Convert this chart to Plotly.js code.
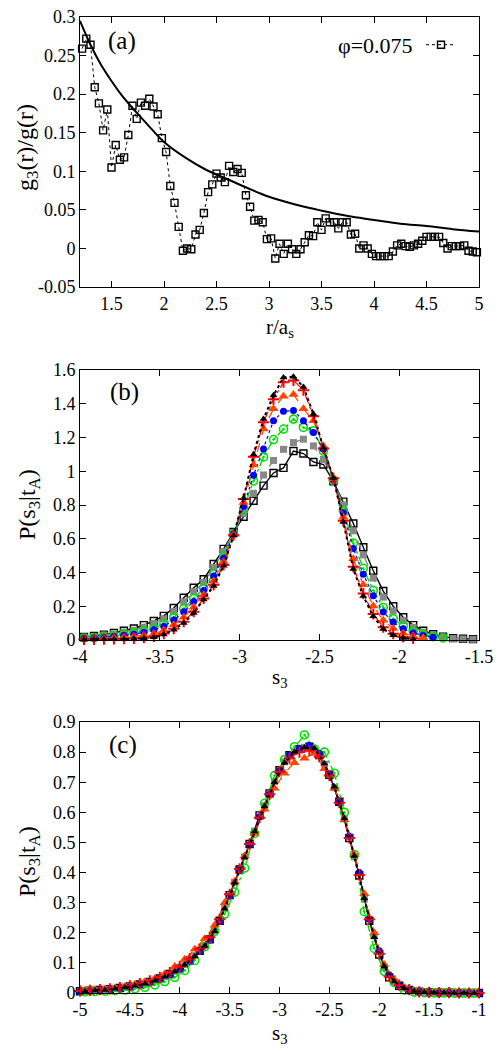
<!DOCTYPE html>
<html><head><meta charset="utf-8">
<script src="https://cdn.plot.ly/plotly-3.0.1.min.js"></script>
<style>html,body{margin:0;padding:0;background:#fff}#chart{width:502px;height:1054px}</style>
</head><body><div id="chart"></div>
<script>
// ---------- panel (a) ----------
const rData = [1.22,1.26,1.30,1.34,1.38,1.42,1.46,1.50,1.54,1.58,1.62,1.66,1.70,1.74,1.78,1.82,1.86,1.90,1.94,1.98,2.02,2.06,2.10,2.14,2.18,2.22,2.26,2.30,2.34,2.38,2.42,2.46,2.50,2.54,2.58,2.62,2.66,2.70,2.74,2.78,2.82,2.86,2.90,2.94,2.98,3.02,3.06,3.10,3.14,3.18,3.22,3.26,3.30,3.34,3.38,3.42,3.46,3.50,3.54,3.58,3.62,3.66,3.70,3.74,3.78,3.82,3.86,3.90,3.94,3.98,4.02,4.06,4.10,4.14,4.18,4.22,4.26,4.30,4.34,4.38,4.42,4.46,4.50,4.54,4.58,4.62,4.66,4.70,4.74,4.78,4.82,4.86,4.90,4.94,4.98];
const g3Data = [0.259,0.272,0.264,0.209,0.188,0.153,0.180,0.105,0.134,0.115,0.118,0.147,0.185,0.168,0.189,0.185,0.194,0.184,0.174,0.143,0.125,0.081,0.059,0.028,-0.003,0.000,-0.001,0.018,0.024,0.046,0.073,0.083,0.097,0.092,0.086,0.107,0.099,0.103,0.098,0.069,0.054,0.036,0.037,0.034,0.012,0.013,-0.013,0.006,-0.007,0.006,-0.001,-0.007,-0.001,0.008,0.017,0.016,0.034,0.024,0.039,0.034,0.034,0.026,0.034,0.034,0.018,0.019,0.000,0.004,0.000,-0.007,-0.010,-0.010,-0.010,-0.010,-0.004,0.004,0.006,0.003,0.002,0.004,0.006,0.010,0.015,0.015,0.015,0.015,0.007,0.000,0.003,0.003,0.003,0.004,-0.003,-0.004,-0.005];
const rCurve = [1.2,1.3,1.4,1.5,1.6,1.7,1.8,1.9,2.0,2.2,2.4,2.6,2.8,3.0,3.25,3.5,3.75,4.0,4.25,4.5,4.75,5.0];
const g3Curve = [0.295,0.264,0.238,0.217,0.198,0.182,0.167,0.152,0.138,0.118,0.102,0.090,0.078,0.067,0.057,0.049,0.042,0.037,0.032,0.029,0.025,0.022];
const legendLabelA = "\u03c6=0.075";

// ---------- panel (b) ----------
const sB = [-3.975,-3.9125,-3.85,-3.7875,-3.725,-3.6625,-3.6,-3.5375,-3.475,-3.4125,-3.35,-3.2875,-3.225,-3.1625,-3.1,-3.0375,-2.975,-2.9125,-2.85,-2.7875,-2.725,-2.6625,-2.6,-2.5375,-2.475,-2.4125,-2.35,-2.2875,-2.225,-2.1625,-2.1,-2.0375,-1.975,-1.9125,-1.85,-1.7875,-1.725,-1.6625,-1.6,-1.5375];
const pB1 = [0.018,0.024,0.032,0.042,0.055,0.068,0.088,0.113,0.143,0.19,0.25,0.31,0.36,0.45,0.54,0.64,0.73,0.825,0.915,0.99,1.02,1.12,1.105,1.055,1.04,0.94,0.82,0.69,0.55,0.41,0.29,0.2,0.135,0.088,0.055,0.034,0.02,0.011,0.007,0.005];
const pB2 = [0.016,0.021,0.028,0.036,0.047,0.058,0.076,0.098,0.125,0.169,0.226,0.286,0.341,0.429,0.524,0.637,0.748,0.869,0.978,1.064,1.13,1.17,1.19,1.15,1.07,0.943,0.801,0.647,0.504,0.367,0.254,0.172,0.115,0.075,0.047,0.029,0.017,0.009,0.006,0.004];
const pB3 = [0.012,0.015,0.020,0.026,0.034,0.042,0.055,0.071,0.095,0.134,0.186,0.246,0.308,0.394,0.497,0.631,0.777,0.943,1.085,1.188,1.25,1.309,1.26,1.24,1.12,0.949,0.768,0.574,0.425,0.294,0.193,0.126,0.082,0.052,0.032,0.020,0.012,null,null,null];
const pB4 = [0.010,0.012,0.017,0.022,0.028,0.034,0.045,0.060,0.082,0.119,0.168,0.228,0.294,0.379,0.485,0.629,0.791,0.976,1.132,1.30,1.355,1.36,1.30,1.23,1.13,0.951,0.754,0.542,0.390,0.262,0.166,0.105,0.067,0.042,0.026,0.016,null,null,null,null];
const pB5 = [0.006,0.008,0.010,0.014,0.017,0.021,0.028,0.038,0.058,0.090,0.135,0.195,0.268,0.350,0.463,0.625,0.815,1.037,1.25,1.37,1.445,1.455,1.37,1.30,1.15,0.955,0.728,0.482,0.327,0.202,0.117,0.068,0.040,0.024,0.014,null,null,null,null,null];
const pB6 = [0.004,0.004,0.005,0.007,0.008,0.010,0.014,0.021,0.038,0.067,0.108,0.168,0.246,0.327,0.445,0.621,0.835,1.086,1.29,1.427,1.528,1.538,1.48,1.326,1.135,0.959,0.706,0.434,0.275,0.154,0.076,0.037,0.018,0.009,null,null,null,null,null,null];
const pB7 = [0.003,0.003,0.004,0.005,0.005,0.007,0.010,0.016,0.032,0.060,0.100,0.160,0.240,0.320,0.440,0.620,0.840,1.100,1.310,1.450,1.555,1.560,1.500,1.340,1.140,0.960,0.700,0.420,0.260,0.140,0.065,0.028,0.012,0.005,null,null,null,null,null,null];

// ---------- panel (c) ----------
const sCA = [-5.0,-4.9,-4.8,-4.7,-4.6,-4.5,-4.4,-4.3,-4.2,-4.1,-4.0,-3.9,-3.8,-3.7,-3.6,-3.5,-3.4,-3.3,-3.2,-3.1,-3.0,-2.9,-2.8,-2.7,-2.6,-2.5,-2.4,-2.3,-2.2,-2.1,-2.0,-1.9,-1.8,-1.7,-1.6,-1.5,-1.4,-1.3,-1.2,-1.1,-1.0];
const sCB = [-4.95,-4.85,-4.75,-4.65,-4.55,-4.45,-4.35,-4.25,-4.15,-4.05,-3.95,-3.85,-3.75,-3.65,-3.55,-3.45,-3.35,-3.25,-3.15,-3.05,-2.95,-2.85,-2.75,-2.65,-2.55,-2.45,-2.35,-2.25,-2.15,-2.05,-1.95,-1.85,-1.75,-1.65,-1.55,-1.45,-1.35,-1.25,-1.15,-1.05];
const pC1 = [0.006,0.008,0.010,0.013,0.017,0.022,0.028,0.037,0.048,0.063,0.082,0.108,0.140,0.178,0.240,0.325,0.41,0.495,0.59,0.663,0.74,0.79,0.81,0.818,0.79,0.725,0.635,0.515,0.39,0.24,0.128,0.052,0.024,0.010,0.004,0.002,0.001,0.001,0,0,0];
const pC2 = [0.007,0.009,0.011,0.015,0.019,0.025,0.032,0.042,0.055,0.072,0.095,0.124,0.158,0.207,0.282,0.368,0.452,0.538,0.622,0.703,0.768,0.802,0.816,0.808,0.760,0.682,0.578,0.452,0.312,0.19,0.085,0.036,0.016,0.007,0.003,0.001,0.001,0,0,0];
const pC3 = [0.004,0.005,0.006,0.008,0.010,0.014,0.019,0.027,0.038,0.052,0.075,0.108,0.154,0.205,0.262,0.335,0.415,0.53,0.63,0.722,0.775,0.818,0.857,0.81,0.80,0.73,0.60,0.46,0.27,0.148,0.072,0.035,0.010,0.003,0.001,0,0,0,0,0];
const pC4 = [0.005,0.007,0.009,0.012,0.016,0.021,0.027,0.036,0.047,0.061,0.080,0.106,0.138,0.176,0.238,0.322,0.41,0.492,0.585,0.66,0.738,0.79,0.812,0.822,0.795,0.728,0.635,0.52,0.40,0.245,0.14,0.06,0.026,0.011,0.004,0.002,0.001,0.001,0.001,0,0];
const pC5 = [0.009,0.011,0.013,0.017,0.022,0.029,0.037,0.048,0.064,0.088,0.112,0.145,0.18,0.225,0.30,0.37,0.455,0.53,0.61,0.68,0.73,0.765,0.78,0.795,0.745,0.68,0.575,0.46,0.33,0.20,0.095,0.045,0.018,0.007,0.003,0.001,0.001,0.001,0.001,0.001];
const pC6 = [0.007,0.009,0.011,0.014,0.018,0.024,0.031,0.040,0.052,0.068,0.088,0.114,0.146,0.185,0.245,0.328,0.412,0.495,0.582,0.66,0.735,0.78,0.80,0.805,0.785,0.722,0.632,0.515,0.392,0.245,0.13,0.055,0.026,0.011,0.004,0.002,0.001,0.001,0,0,0];
const pC7 = [0.006,0.008,0.010,0.014,0.018,0.024,0.031,0.041,0.054,0.071,0.094,0.122,0.156,0.205,0.28,0.366,0.45,0.536,0.62,0.70,0.765,0.80,0.815,0.812,0.762,0.685,0.58,0.455,0.315,0.185,0.088,0.038,0.016,0.007,0.003,0.001,0.001,0,0,0];

// ---------- ticks ----------
const xTickA = [1.5,2,2.5,3,3.5,4,4.5,5];
const xLabA = ["1.5","2","2.5","3","3.5","4","4.5","5"];
const yTickA = [-0.05,0,0.05,0.1,0.15,0.2,0.25,0.3];
const yLabA = ["-0.05","0","0.05","0.1","0.15","0.2","0.25","0.3"];
const xTickB = [-4,-3.5,-3,-2.5,-2,-1.5];
const xLabB = ["-4","-3.5","-3","-2.5","-2","-1.5"];
const yTickB = [0,0.2,0.4,0.6,0.8,1,1.2,1.4,1.6];
const yLabB = ["0","0.2","0.4","0.6","0.8","1","1.2","1.4","1.6"];
const xTickC = [-5,-4.5,-4,-3.5,-3,-2.5,-2,-1.5,-1];
const xLabC = ["-5","-4.5","-4","-3.5","-3","-2.5","-2","-1.5","-1"];
const yTickC = [0,0.1,0.2,0.3,0.4,0.5,0.6,0.7,0.8,0.9];
const yLabC = ["0","0.1","0.2","0.3","0.4","0.5","0.6","0.7","0.8","0.9"];

// ---------- drawing ----------
const W = 502, H = 1054;
const px = v => v / W, py = v => 1 - v / H;
const FONT = "Liberation Serif, serif";

const seriesStyles = [
  {color:'#000000', symbol:'square-open', size:7, mlw:1.4, dash:'solid', lw:1.4},
  {color:'#888888', symbol:'square', size:7, mlw:0, dash:'dash', lw:1.4},
  {color:'#00e000', symbol:'circle-open-dot', size:8, mlw:1.6, dash:'dashdot', lw:1.4},
  {color:'#0000ff', symbol:'circle', size:7, mlw:0, dash:'dot', lw:1.2},
  {color:'#ff4500', symbol:'triangle-up', size:9, mlw:0, dash:'dash', lw:1.2},
  {color:'#ff0000', symbol:'cross-thin-open', size:8, mlw:2, dash:'dashdot', lw:1.2},
  {color:'#000000', symbol:'triangle-up', size:7, mlw:0, dash:'dot', lw:2}
];

function seriesTrace(x, y, st, xa, ya) {
  return {x, y, xaxis:xa, yaxis:ya, type:'scatter', mode:'lines+markers', showlegend:false, cliponaxis:false,
    line:{color:st.color, width:st.lw, dash:st.dash},
    marker:{symbol:st.symbol, size:st.size, color:st.color, line:{color:st.color, width:st.mlw}}};
}

const traces = [];
traces.push({x:rCurve, y:g3Curve, xaxis:'x', yaxis:'y', type:'scatter', mode:'lines', line:{color:'#000', width:2, shape:'spline'}, showlegend:false});
traces.push({x:rData, y:g3Data, xaxis:'x', yaxis:'y', type:'scatter', mode:'lines+markers', name:' ', showlegend:true, cliponaxis:false,
  line:{color:'#000', width:1, dash:'3px,3px'},
  marker:{symbol:'square-open', size:7, color:'#000', line:{color:'#000', width:1.4}}});

const bSeries = [pB1,pB2,pB3,pB4,pB5,pB6,pB7];
bSeries.forEach((p,i)=>traces.push(seriesTrace(sB, p, seriesStyles[i], 'x2', 'y2')));
const cGrids = [sCA,sCB,sCB,sCA,sCB,sCA,sCB];
const cSeries = [pC1,pC2,pC3,pC4,pC5,pC6,pC7];
cSeries.forEach((p,i)=>traces.push(seriesTrace(cGrids[i], p, seriesStyles[i], 'x3', 'y3')));

function axis(domain, range, tv, tt, anchor) {
  return {domain, range, anchor, tickmode:'array', tickvals:tv, ticktext:tt,
    ticks:'inside', ticklen:6, tickwidth:1, tickcolor:'#000', mirror:'allticks',
    showline:true, linecolor:'#000', linewidth:1, showgrid:false, zeroline:false,
    tickfont:{family:FONT, size:18, color:'#000'}, automargin:false, fixedrange:true};
}
const xDom = [px(80), px(479)];

const ann = (text, x, y, size, angle) => ({text, x:px(x), y:py(y), xref:'paper', yref:'paper', showarrow:false,
  xanchor:'center', yanchor:'middle', textangle:angle||0, font:{family:FONT, size, color:'#000'}});

const layout = {
  width:W, height:H, margin:{l:0,r:0,t:0,b:0}, paper_bgcolor:'#fff', plot_bgcolor:'#fff',
  font:{family:FONT, color:'#000'},
  xaxis: axis(xDom, [1.2,5], xTickA, xLabA, 'y'),
  yaxis: axis([py(287), py(17)], [-0.05,0.3], yTickA, yLabA, 'x'),
  xaxis2: axis(xDom, [-4,-1.5], xTickB, xLabB, 'y2'),
  yaxis2: axis([py(640), py(370)], [0,1.6], yTickB, yLabB, 'x2'),
  xaxis3: axis(xDom, [-5,-1], xTickC, xLabC, 'y3'),
  yaxis3: axis([py(993), py(722)], [0,0.9], yTickC, yLabC, 'x3'),
  showlegend:true,
  legend:{x:px(421), xanchor:'left', y:py(45), yanchor:'middle', bgcolor:'rgba(0,0,0,0)', borderwidth:0,
    font:{family:FONT, size:18}},
  annotations:[
    ann('(a)', 122, 41, 25), ann('(b)', 124, 392, 25), ann('(c)', 123, 745, 25),
    ann(legendLabelA, 375, 45, 22),
    ann('g<sub>3</sub>(r)/g(r)', 27, 148, 24, -90),
    ann('r/a<sub>s</sub>', 280, 328, 21),
    ann('P(s<sub>3</sub>|t<sub>A</sub>)', 29, 505, 24, -90),
    ann('s<sub>3</sub>', 280, 678, 21),
    ann('P(s<sub>3</sub>|t<sub>A</sub>)', 29, 862, 24, -90),
    ann('s<sub>3</sub>', 280, 1034, 21)
  ]
};

Plotly.newPlot('chart', traces, layout, {staticPlot:true, displayModeBar:false});
</script>
</body></html>
